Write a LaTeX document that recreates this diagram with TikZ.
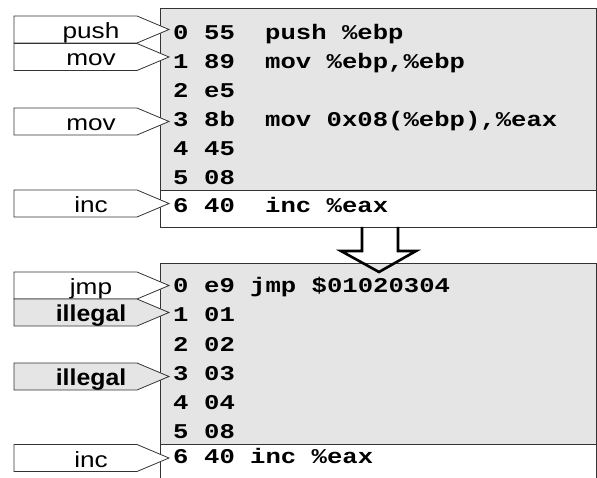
\documentclass[tikz,border=0pt]{standalone}
\usepackage{fontspec}
\newfontfamily\monofam{Liberation Mono}
\newfontfamily\labfam{Liberation Sans}
\newcommand{\wide}[1]{\scalebox{1.19}[1]{#1}}
\newcommand{\cwide}[1]{\scalebox{1.22}[1]{#1}}
\newcommand{\codefnt}{\monofam\bfseries\fontsize{21}{21}\selectfont}
\newcommand{\labfnt}{\labfam\fontsize{22}{22}\selectfont}
\newcommand{\badfnt}{\labfam\bfseries\fontsize{23}{23}\selectfont}
% tag: name, middle y, fill, font, text
\newcommand{\optag}[5]{%
	\draw[tagline, fill=#3] (14,#2-13.5) -- (137,#2-13.5) -- (169,#2) -- (137,#2+13.5) -- (14,#2+13.5) -- cycle;
	\node[taglabel, font=#4] (#1) at (91,#2+9) {#5};}
\tikzset{
	tagline/.style={draw=black!80, line width=0.8pt},
	taglabel/.style={anchor=base, inner sep=0pt},
	code/.style={anchor=base west, inner sep=0pt, font=\codefnt},
	panel/.style={draw=black!80, line width=0.8pt},
	bigarrow/.style={draw=black, line width=2.6pt, line join=miter},
}
\begin{document}
\begin{tikzpicture}[x=1pt,y=1pt,yscale=-1,xscale=1]
	\useasboundingbox (0,0) rectangle (597,478);
	
	%upper listing
	\draw[panel, fill=gray!20] (160,8) rectangle (596,190);
	\draw[panel, fill=white] (160,190) rectangle (596,227);
	\foreach \i/\b/\ins in {0/55/{push \%ebp}, 1/89/{mov \%ebp,\%ebp}, 2/e5/{}, 3/8b/{mov 0x08(\%ebp),\%eax}, 4/45/{}, 5/08/{}}{
		\node[code] (ua\i) at (173,40+29*\i) {\cwide{\i}};
		\node[code] (ub\i) at (204,40+29*\i) {\cwide{\b}};
		\node[code] (uc\i) at (265,40+29*\i) {\cwide{\ins}};
	}
	\node[code] (ua6) at (173,213) {\cwide{6}};
	\node[code] (ub6) at (204,213) {\cwide{40}};
	\node[code] (uc6) at (265,213) {\cwide{inc \%eax}};
	
	%upper tags
	\optag{upush}{29.5}{white}{\labfnt}{\wide{push}}
	\optag{umov}{57}{white}{\labfnt}{\wide{mov}}
	\optag{umovb}{121.5}{white}{\labfnt}{\wide{mov}}
	\optag{uinc}{203.5}{white}{\labfnt}{\wide{inc}}
	
	%lower listing
	\fill[gray!20] (160,263) rectangle (596,444);
	\draw[panel] (160,478) -- (160,263) -- (596,263) -- (596,478);
	\draw[panel] (160,444) -- (596,444);
	\foreach \i/\b/\ins in {0/e9/{jmp \$01020304}, 1/01/{}, 2/02/{}, 3/03/{}, 4/04/{}, 5/08/{}}{
		\node[code] (la\i) at (173,293+29*\i) {\cwide{\i}};
		\node[code] (lb\i) at (204,293+29*\i) {\cwide{\b}};
		\node[code] (lc\i) at (250,293+29*\i) {\cwide{\ins}};
	}
	\node[code] (la6) at (173,463) {\cwide{6}};
	\node[code] (lb6) at (204,463) {\cwide{40}};
	\node[code] (lc6) at (250,463) {\cwide{inc \%eax}};
	
	%lower tags
	\optag{ljmp}{285.5}{white}{\labfnt}{\wide{jmp}}
	\optag{lbad}{312.5}{gray!20}{\badfnt}{\scalebox{1.08}[1]{illegal}}
	\optag{lbadb}{376.5}{gray!20}{\badfnt}{\scalebox{1.08}[1]{illegal}}
	\optag{linc}{458}{white}{\labfnt}{\wide{inc}}
	
	%block arrow between the listings
	\draw[bigarrow] (362,227) -- (362,251) -- (341,251) -- (379,272) -- (416,251) -- (398,251) -- (398,227);
\end{tikzpicture}
\end{document}
